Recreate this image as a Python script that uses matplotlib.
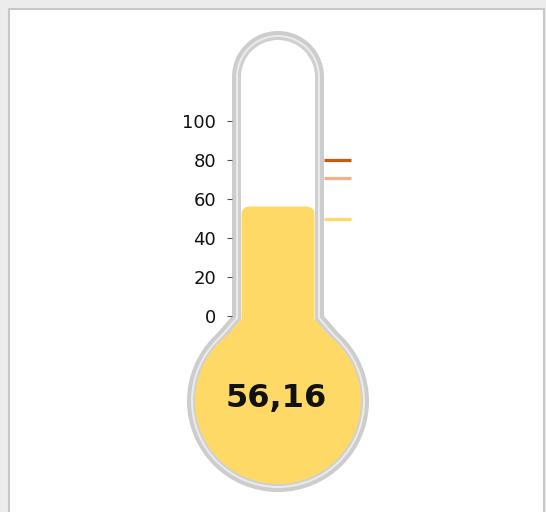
import matplotlib
matplotlib.use("Agg")
import matplotlib.pyplot as plt
from matplotlib.patches import Circle, Rectangle, Polygon, FancyBboxPatch

# ── data ──────────────────────────────────────────────────────────────
value = 56.16
value_label = "56,16"
tick_values = [0, 20, 40, 60, 80, 100]
marker_values = [80, 71, 50]
marker_colors = ["#c55a11", "#f4b183", "#ffd966"]
fill_color = "#ffd966"

# ── layout (pixels) ───────────────────────────────────────────────────
W, H = 546, 512
PX = 1.95      # pixels per scale unit
ZERO_Y = 316   # pixel row of scale value 0


def u(px):
    return px / PX


def row(py):
    # pixel row -> scale value
    return u(ZERO_Y - py)


fig = plt.figure(figsize=(W / 100, H / 100), dpi=100, facecolor="#ececec")
fig.add_artist(Rectangle((9 / W, -0.05), 535 / W, (H - 9) / H + 0.05,
                         transform=fig.transFigure, facecolor="white",
                         edgecolor="#c8c8c8", linewidth=1.5, zorder=-5))

ax = fig.add_axes([0, 0, 1, 1])
ax.set_zorder(1)
ax.set_xlim(0, u(W))
ax.set_ylim(row(H), row(0))
ax.patch.set_alpha(0)

cx = u(278)
top_c = row(77)
bulb_c = row(401)

# glass outline: outer gray, light gap, inner gray, interior
layers = [(46, 91, "#cdcdcd"), (42, 87, "#ebebeb"),
          (40, 85, "#d0d0d0"), (37, 83, "white")]
for i, (w, R, col) in enumerate(layers):
    d = 46 - w
    last = i == len(layers) - 1
    bulb_col = fill_color if last else col
    ax.add_patch(Circle((cx, top_c), u(w), facecolor=col, edgecolor="none"))
    ax.add_patch(Rectangle((cx - u(w), bulb_c), 2 * u(w), top_c - bulb_c,
                           facecolor=col, edgecolor="none"))
    ax.add_patch(Circle((cx, bulb_c), u(R), facecolor=bulb_col, edgecolor="none"))
    ty = row(316 + 0.372 * d)
    ox = 71 - 0.757 * d
    oy = row(345 + 0.653 * d)
    ax.add_patch(Polygon([(cx - u(w), ty), (cx - u(ox), oy), (cx, bulb_c),
                          (cx + u(ox), oy), (cx + u(w), ty)],
                         closed=True, facecolor=bulb_col, edgecolor="none"))

# mercury column up to the value
fw = u(36.5)
ax.add_patch(FancyBboxPatch((cx - fw, bulb_c), 2 * fw, value - bulb_c,
                            boxstyle="round,pad=0,rounding_size=4.2",
                            facecolor=fill_color, edgecolor="none"))

# target markers
ax.hlines(marker_values, u(324), u(351), colors=marker_colors, linewidth=2.3)

ax.text(cx - u(2), row(398), value_label, ha="center", va="center",
        fontsize=23, fontweight="bold", color="#111111")

# scale
ax.set_yticks(tick_values)
ax.set_xticks([])
ax.tick_params(axis="y", length=3.6, width=0.8, color="#555555",
               labelsize=13, pad=8, labelcolor="#111111")
ax.spines["left"].set_position(("data", u(232)))
ax.spines["left"].set_color("none")
for s in ["right", "top", "bottom"]:
    ax.spines[s].set_visible(False)

fig.savefig("out.png", dpi=100, facecolor=fig.get_facecolor())
